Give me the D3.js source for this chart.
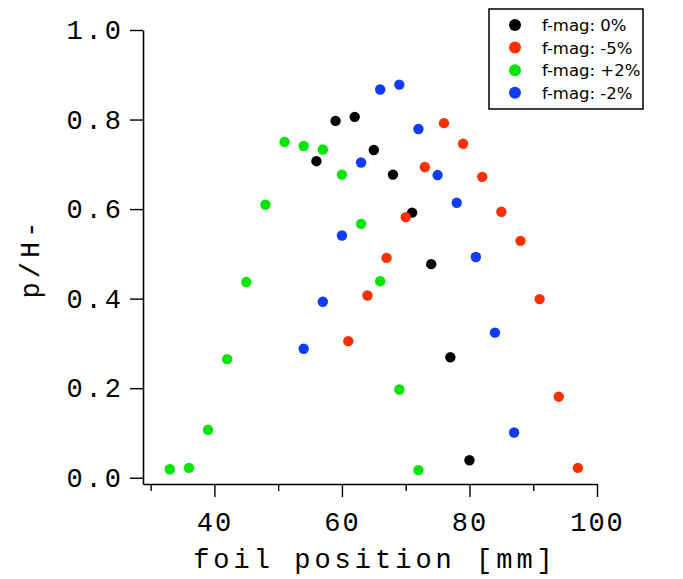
<!DOCTYPE html>
<html>
<head>
<meta charset="utf-8">
<script src="https://cdn.jsdelivr.net/npm/d3@7"></script>
<style>
  body { margin: 0; background: #fff; }
  svg { display: block; }
</style>
</head>
<body>
<svg></svg>
<script>
var width = 683;
var height = 579;

// series: foil position [mm] and p/H- for each f-mag setting
var pos0 = [56, 59, 62, 65, 68, 71, 74, 77, 80];
var val0 = [0.707, 0.797, 0.806, 0.732, 0.677, 0.592, 0.477, 0.269, 0.039];

var posM5 = [61, 64, 67, 70, 73, 76, 79, 82, 85, 88, 91, 94, 97];
var valM5 = [0.305, 0.407, 0.491, 0.582, 0.694, 0.792, 0.746, 0.672, 0.594, 0.529, 0.399, 0.181, 0.022];

var posP2 = [33, 36, 39, 42, 45, 48, 51, 54, 57, 60, 63, 66, 69, 72];
var valP2 = [0.019, 0.022, 0.107, 0.265, 0.437, 0.610, 0.750, 0.741, 0.733, 0.677, 0.567, 0.439, 0.197, 0.017];

var posM2 = [54, 57, 60, 63, 66, 69, 72, 75, 78, 81, 84, 87];
var valM2 = [0.288, 0.393, 0.541, 0.704, 0.867, 0.878, 0.779, 0.676, 0.614, 0.493, 0.324, 0.101];

var seriesNames = ["f-mag: 0%", "f-mag: -5%", "f-mag: +2%", "f-mag: -2%"];
var seriesColors = ["#000000", "#ff3000", "#00e600", "#0f3cf8"];

var xMajor = [40, 60, 80, 100];
var xMinor = [30, 50, 70, 90];
var yTicks = [0.0, 0.2, 0.4, 0.6, 0.8, 1.0];

var series = [
  {name: seriesNames[0], color: seriesColors[0], xs: pos0, ys: val0},
  {name: seriesNames[1], color: seriesColors[1], xs: posM5, ys: valM5},
  {name: seriesNames[2], color: seriesColors[2], xs: posP2, ys: valP2},
  {name: seriesNames[3], color: seriesColors[3], xs: posM2, ys: valM2}
];

var xScale = d3.scaleLinear()
  .domain([28.8, 100])
  .range([143, 597]);

var yScale = d3.scaleLinear()
  .domain([-0.014, 1.0])
  .range([484, 30]);

var monoFont = "'Courier New', 'Liberation Mono', monospace";

var svg = d3.select("svg")
    .attr("width", width)
    .attr("height", height);

// y axis
var yAxis = svg.append("g")
    .attr("transform", "translate(" + xScale.range()[0] + ",0)")
    .call(d3.axisLeft(yScale)
      .tickValues(yTicks)
      .tickFormat(d3.format(".1f"))
      .tickSize(13)
      .tickSizeOuter(0)
      .tickPadding(6));

// x axis, major and minor ticks
var xAxis = svg.append("g")
    .attr("transform", "translate(0," + yScale.range()[0] + ")")
    .call(d3.axisBottom(xScale)
      .tickValues(xMajor)
      .tickFormat(d3.format("d"))
      .tickSize(13)
      .tickSizeOuter(0));

var xMinorAxis = svg.append("g")
    .attr("transform", "translate(0," + yScale.range()[0] + ")")
    .call(d3.axisBottom(xScale)
      .tickValues(xMinor)
      .tickFormat("")
      .tickSize(7));
xMinorAxis.select(".domain").remove();

svg.selectAll(".domain")
    .attr("stroke", "#000")
    .attr("stroke-width", 1.6);
svg.selectAll(".tick line")
    .attr("stroke", "#000")
    .attr("stroke-width", 1.4);

yAxis.selectAll("text")
    .attr("font-family", monoFont)
    .attr("font-size", 27)
    .attr("letter-spacing", 3)
    .attr("fill", "#000");

xAxis.selectAll("text")
    .attr("font-family", monoFont)
    .attr("font-size", 27)
    .attr("letter-spacing", 2)
    .attr("fill", "#000")
    .attr("y", 47)
    .attr("dy", 0);

// axis titles
svg.append("text")
    .attr("x", 375)
    .attr("y", 568)
    .attr("text-anchor", "middle")
    .attr("font-family", monoFont)
    .attr("font-size", 27)
    .attr("letter-spacing", 4)
    .text("foil position [mm]");

svg.append("text")
    .attr("transform", "translate(39,258) rotate(-90)")
    .attr("text-anchor", "middle")
    .attr("font-family", monoFont)
    .attr("font-size", 27)
    .attr("letter-spacing", 4)
    .text("p/H-");

// points
svg.selectAll("g.series")
  .data(series)
  .enter()
  .append("g")
    .attr("class", "series")
    .attr("fill", d => d.color)
  .selectAll("circle")
  .data(d => d.xs.map((x, i) => ({x: x, y: d.ys[i]})))
  .enter()
  .append("circle")
    .attr("cx", d => xScale(d.x))
    .attr("cy", d => yScale(d.y))
    .attr("r", 5.2);

// legend
var legend = svg.append("g");
legend.append("rect")
    .attr("x", 489)
    .attr("y", 9)
    .attr("width", 154)
    .attr("height", 100)
    .attr("fill", "#fff")
    .attr("stroke", "#000")
    .attr("stroke-width", 1.5);

var rows = legend.selectAll("g.row")
  .data(series)
  .enter()
  .append("g")
    .attr("class", "row")
    .attr("transform", (d, i) => "translate(0," + (25 + i * 22.6) + ")");

rows.append("circle")
    .attr("cx", 515)
    .attr("cy", 0)
    .attr("r", 6)
    .attr("fill", d => d.color);

rows.append("text")
    .attr("x", 542)
    .attr("y", 0)
    .attr("dy", "0.36em")
    .attr("font-family", "'DejaVu Sans', Verdana, sans-serif")
    .attr("font-size", 16.5)
    .attr("fill", "#000")
    .text(d => d.name);
</script>
</body>
</html>
